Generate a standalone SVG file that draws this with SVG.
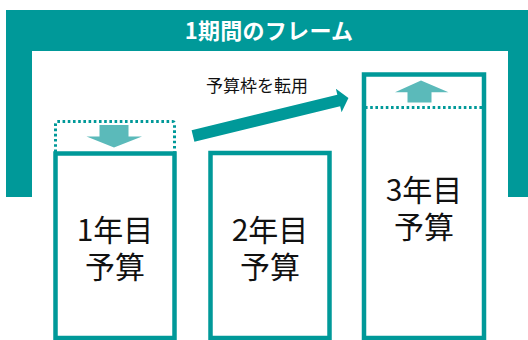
<svg xmlns="http://www.w3.org/2000/svg" width="528" height="340" viewBox="0 0 528 340">
<style>
.frame{fill:#009999}
.box{fill:#ffffff;stroke:#009999;stroke-width:4.5}
.dot{fill:none;stroke:#009999;stroke-width:3;stroke-dasharray:2.6 2.6}
.light{fill:#5bbaba}
.big{fill:#009999}
.t{font-family:"Noto Sans CJK JP","Noto Sans",sans-serif;fill:#111111;text-anchor:middle}
.lbl{font-size:30px}
.title{font-family:"Noto Sans CJK JP","Noto Sans",sans-serif;font-size:22px;font-weight:bold;fill:#ffffff;text-anchor:middle}
</style>
<rect width="528" height="340" fill="#ffffff"/>
<g id="frame">
<path class="frame" d="M6,10 H528 V197 H508 V51 H32 V197 H6 Z"/>
<text class="title" x="269" y="38.5" letter-spacing="0.3">1期間のフレーム</text>
</g>
<g id="box1">
<rect class="box" x="55.5" y="153.5" width="119" height="184.5"/>
<path class="dot" d="M55.5,152 V123.5 Q55.5,121.5 57.5,121.5 H172.5 Q174.5,121.5 174.5,123.5 V152"/>
<polygon class="light" points="99.5,125 128.5,125 128.5,136.5 142,136.5 114,147.5 86.5,136.5 99.5,136.5"/>
<text class="t lbl" x="115" y="241"><tspan x="115" y="241">1年目</tspan><tspan x="115" y="278">予算</tspan></text>
</g>
<g id="box2">
<rect class="box" x="210.5" y="153" width="119" height="185"/>
<text class="t lbl" x="270" y="241"><tspan x="270" y="241">2年目</tspan><tspan x="270" y="278">予算</tspan></text>
</g>
<g id="box3">
<rect class="box" x="364" y="74.5" width="120" height="263.5"/>
<line class="dot" x1="365" y1="107.5" x2="483" y2="107.5"/>
<polygon class="light" points="407.5,102.5 431.5,102.5 431.5,92.3 448.5,92.3 421,80.5 395,92.3 407.5,92.3"/>
<text class="t lbl" x="424" y="201"><tspan x="424" y="201">3年目</tspan><tspan x="424" y="238">予算</tspan></text>
</g>
<g id="connectors">
<polygon class="big" transform="translate(193,136) rotate(-13.7)" points="0,-6 150,-6 150,-12 160,0 150,12 150,6 0,6"/>
<text class="t" x="257" y="92" font-size="17">予算枠を転用</text>
</g>
</svg>
